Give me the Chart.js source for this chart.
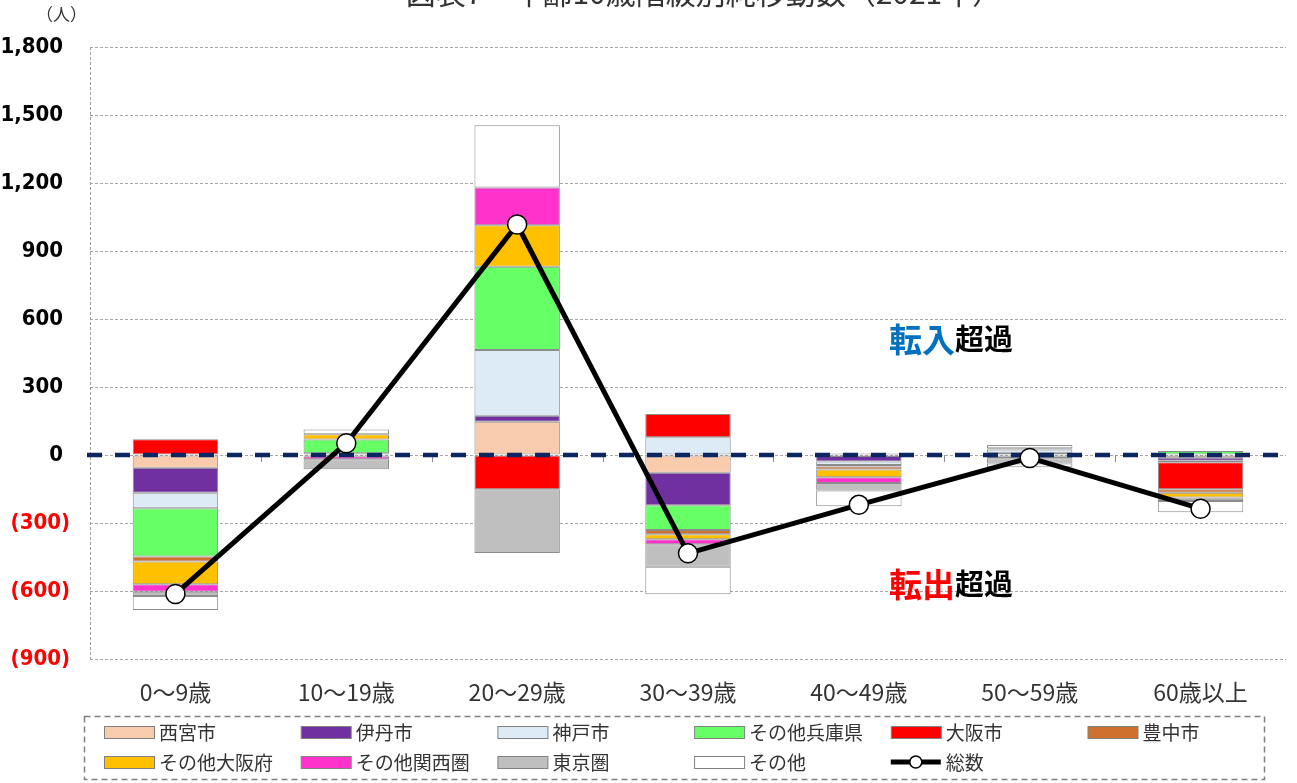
<!DOCTYPE html>
<html><head><meta charset="utf-8">
<script src="https://cdn.jsdelivr.net/npm/chart.js@4/dist/chart.umd.min.js"></script>
<style>html,body{margin:0;padding:0;background:#fff}#wrap{width:1297px;height:783px;position:relative}</style>
</head><body><div id="wrap"><canvas id="c" width="1297" height="783"></canvas></div>
<script>
const categories = ['0～9歳','10～19歳','20～29歳','30～39歳','40～49歳','50～59歳','60歳以上'];
const nishinomiya  = [-56,   8,  147,  -78,  -4,  10, -12];
const itami        = [-110, -5,   26, -144, -25,  -6, -13];
const kobe         = [-69,   0,  290,   78, -15,  14,  -7];
const otherHyogo   = [-213, 60,  367, -109,   7,  -3,  18];
const osakaCity    = [69,    0, -151,  103,  -7,  -5, -119];
const toyonaka     = [-22,   0,    0,  -19, -13,   0, -15];
const otherOsaka   = [-100, 24,  184,  -22, -34,   6, -22];
const otherKansai  = [-33, -14,  166,  -22, -25,   0,  -5];
const tokyoArea    = [-19, -44, -281,  -99, -34, -23, -10];
const others       = [-62,  20,  275, -121, -69,  14, -50];
const others2      = null;
const totals       = [-613, 52, 1017, -434, -220, -13, -237];
const yMin = -900, yMax = 1800, yStep = 300;

const seriesNames = ['西宮市','伊丹市','神戸市','その他兵庫県','大阪市','豊中市','その他大阪府','その他関西圏','東京圏','その他'];
const seriesColors = ['#F8CBAD','#7030A0','#DDEBF7','#66FF66','#FF0000','#D0702F','#FFC000','#FF33CC','#BFBFBF','#FFFFFF'];
const totalName = '総数';
const titleText = '図表7　年齢10歳階級別純移動数（2021年）';
const unitText = '（人）';

// 50～59歳: その他 has both a positive (+14) and a negative (-17) part in the picture
const othersNeg = [0, 0, 0, 0, 0, -17, 0];

const JP = "'Noto Sans CJK JP', 'Noto Sans', sans-serif";
const NUM = "'DejaVu Sans Condensed', 'Liberation Sans Narrow', 'DejaVu Sans', sans-serif";

function fmt(v){ return Math.abs(v).toLocaleString('en-US'); }

const seriesData = [nishinomiya, itami, kobe, otherHyogo, osakaCity, toyonaka, otherOsaka, otherKansai, tokyoArea, others];

const datasets = [{
  type:'line', label: totalName, data: totals, order: 0, stack:'total',
  borderColor:'#000', borderWidth:5, pointRadius:9.5, pointHoverRadius:9.5,
  pointBackgroundColor:'#fff', pointBorderColor:'#000', pointBorderWidth:1.5,
  tension:0, fill:false
}];
const barBase = { type:'bar', order:1, stack:'s', borderColor:'#8C8C8C', borderWidth:1, borderSkipped:false, categoryPercentage:1.0, barPercentage:0.5 };
seriesNames.forEach((n,i)=>{
  datasets.push(Object.assign({}, barBase, { label:n, data: seriesData[i].map(v=> v===0 ? null : v), backgroundColor: seriesColors[i] }));
});
datasets.push(Object.assign({}, barBase, { label:'その他 ', data: othersNeg.map(v=> v===0 ? null : v), backgroundColor: seriesColors[9] }));

const decor = {
  id:'decor',
  beforeDatasetDraw(chart, args){
    if (args.meta.type !== 'line') return;
    const ctx = chart.ctx, ca = chart.chartArea, y = chart.scales.y.getPixelForValue(0);
    ctx.save();
    ctx.strokeStyle = '#8C8C8C'; ctx.lineWidth = 1; ctx.setLineDash([]);
    const n = categories.length, w = (ca.right-ca.left)/n;
    for (let k=1;k<n;k++){ const px = Math.round(ca.left + k*w)+0.5; ctx.beginPath(); ctx.moveTo(px,y); ctx.lineTo(px,y+7); ctx.stroke(); }
    ctx.strokeStyle = '#0B2660'; ctx.lineWidth = 4.5; ctx.setLineDash([15,13]);
    ctx.beginPath(); ctx.moveTo(ca.left-3, y); ctx.lineTo(ca.right, y); ctx.stroke();
    ctx.restore();
  },
  beforeDatasetsDraw(chart){
    const ctx = chart.ctx, ca = chart.chartArea;
    ctx.save();
    ctx.strokeStyle = '#A0A0A0'; ctx.lineWidth = 1; ctx.setLineDash([3,2]);
    ctx.beginPath(); ctx.moveTo(ca.left+0.5, ca.top); ctx.lineTo(ca.left+0.5, ca.bottom); ctx.stroke();
    ctx.restore();
  },
  afterDraw(chart){
    const ctx = chart.ctx;
    ctx.save();
    ctx.fillStyle = '#333'; ctx.font = "30px " + JP; ctx.textAlign='center'; ctx.textBaseline='alphabetic';
    ctx.fillText(titleText, 704, 4);
    ctx.font = "17px " + JP; ctx.textAlign='left'; ctx.textBaseline='middle'; ctx.fillStyle='#333';
    ctx.fillText(unitText, 36, 15);
    function rich(parts, x, y){
      let cx = x;
      parts.forEach(p=>{ ctx.font = 'bold ' + p[2] + 'px ' + JP; ctx.fillStyle = p[1]; ctx.fillText(p[0], cx, y); cx += ctx.measureText(p[0]).width; });
    }
    ctx.textAlign='left'; ctx.textBaseline='middle';
    rich([['転入','#0070C0',33],['超過','#000',29]], 889, 339);
    rich([['転出','#FF0000',33],['超過','#000',29]], 889, 584);
    ctx.strokeStyle = '#808080'; ctx.lineWidth = 1.5; ctx.setLineDash([6,4]);
    ctx.strokeRect(84.5, 716.5, 1180, 63);
    ctx.setLineDash([]);
    const colX = [104, 300.7, 497.4, 694.1, 890.8, 1087.5];
    const rowY = [732, 762];
    const items = seriesNames.map((n,i)=>({name:n, color:seriesColors[i]}));
    items.push({name: totalName, line:true});
    ctx.font = '19px ' + JP; ctx.textBaseline = 'middle';
    items.forEach((it, i)=>{
      const r = Math.floor(i/6), c = i%6;
      const x = colX[c], y = rowY[r];
      if (it.line){
        ctx.strokeStyle = '#000'; ctx.lineWidth = 5; ctx.beginPath(); ctx.moveTo(x, y); ctx.lineTo(x+50, y); ctx.stroke();
        ctx.beginPath(); ctx.arc(x+25, y, 6, 0, Math.PI*2); ctx.fillStyle='#fff'; ctx.fill(); ctx.lineWidth=1.5; ctx.stroke();
      } else {
        ctx.fillStyle = it.color; ctx.fillRect(x+0.5, y-5.5, 50, 12);
        ctx.strokeStyle = '#808080'; ctx.lineWidth = 1; ctx.strokeRect(x+0.5, y-5.5, 50, 12);
      }
      ctx.fillStyle = '#333'; ctx.fillText(it.name, x+55, y+1);
    });
    ctx.restore();
  }
};

new Chart(document.getElementById('c'), {
  data: { labels: categories, datasets },
  options: {
    responsive:false, animation:false, devicePixelRatio:1,
    layout:{ padding:{ top:47, right:7, bottom:0, left:0 } },
    plugins:{ legend:{display:false}, tooltip:{enabled:false}, title:{display:false} },
    scales:{
      x:{ stacked:true, offset:true,
        grid:{display:false, drawTicks:false}, border:{display:false},
        ticks:{ font:{size:23, family:JP}, color:'#333', padding:19, maxRotation:0 },
        afterFit(s){ s.height = 124; } },
      y:{ stacked:true, min:yMin, max:yMax,
        grid:{ color:'#A6A6A6', lineWidth:1, drawTicks:false },
        border:{ display:false, dash:[3,2] },
        ticks:{ stepSize:yStep, padding:20, font:{size:22, weight:'bold', family:NUM},
          color: c => (c.tick && c.tick.value < 0) ? '#FF0000' : '#000',
          callback: v => v < 0 ? '(' + fmt(v) + ')' : fmt(v) + ' ' },
        afterFit(s){ s.width = 90; } }
    }
  },
  plugins:[decor]
});
</script></body></html>
